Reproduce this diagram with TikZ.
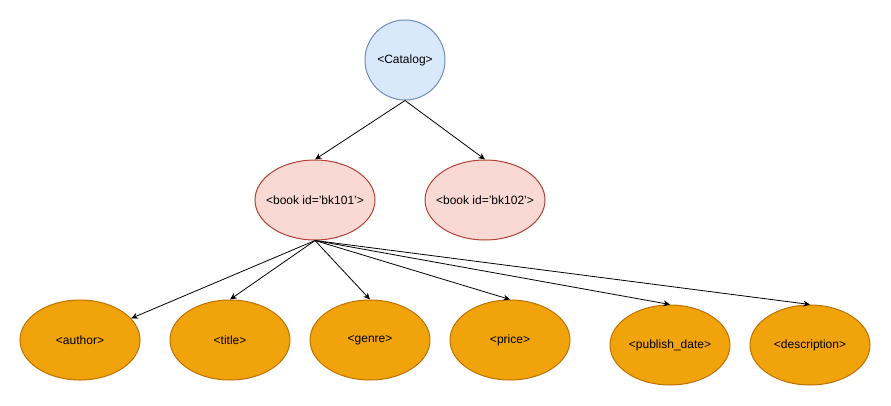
\documentclass[tikz,border=0pt]{standalone}
\usepackage{fontspec}
\setmainfont{Liberation Sans}
\usetikzlibrary{shapes.geometric,arrows.meta}
\definecolor{catfill}{HTML}{DAE8FC}
\definecolor{catline}{HTML}{6C8EBF}
\definecolor{bookfill}{HTML}{FAD9D5}
\definecolor{bookline}{HTML}{AE4132}
\definecolor{elfill}{HTML}{F0A30A}
\definecolor{elline}{HTML}{BD7000}
\newcommand{\tagname}[1]{<#1>}

\begin{document}
\begin{tikzpicture}[x=0.75pt,y=-0.75pt,font=\fontsize{9}{11}\selectfont,
		root/.style={circle,draw=catline,fill=catfill,line width=0.75pt,minimum size=60pt,inner sep=0pt},
		book/.style={ellipse,draw=bookline,fill=bookfill,line width=0.75pt,minimum width=90pt,minimum height=60pt,inner xsep=-8pt,inner ysep=0pt},
		elem/.style={ellipse,draw=elline,fill=elfill,line width=0.75pt,minimum width=90pt,minimum height=60pt,inner sep=0pt},
		edge/.style={line width=0.6pt,-{Stealth[length=5pt,width=4.5pt]}}]
		\useasboundingbox (0,0) rectangle (891,406);
		\node[root] (CT) at (405, 60) {\tagname{Catalog}};
		\node[book] (B1) at (315, 200) {\tagname{book id='bk101'}};
		\node[book] (B2) at (485, 200) {\tagname{book id='bk102'}};
		\node[elem] (AU) at (80, 340) {\tagname{author}};
		\node[elem] (TI) at (230, 340) {\tagname{title}};
		\node[elem] (GE) at (370, 340) {\tagname{genre}};
		\node[elem] (PR) at (510, 340) {\tagname{price}};
		\node[elem] (PD) at (670, 345) {\tagname{publish\_date}};
		\node[elem] (DE) at (810, 345) {\tagname{description}};
		\draw[edge] (CT.south) -- (B1.north);
		\draw[edge] (CT.south) -- (B2.north);
		\draw[edge] (B1.south) -- (AU);
		\foreach \n in {TI,GE,PR,PD,DE}
			\draw[edge] (B1.south) -- (\n.north);
	\end{tikzpicture}
\end{document}
